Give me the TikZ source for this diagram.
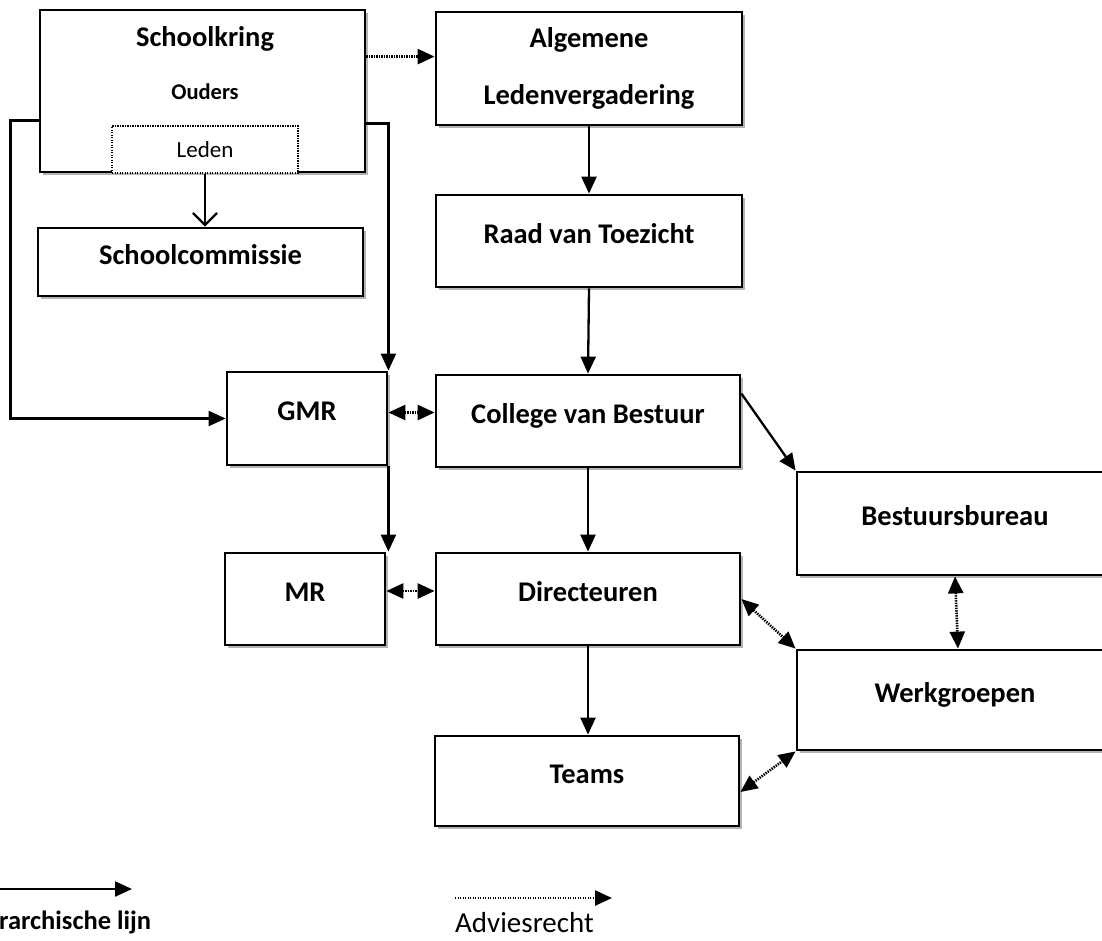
\documentclass[tikz,border=0pt]{standalone}
\usepackage{fontspec}
\setmainfont{Carlito}
\usetikzlibrary{arrows.meta,shadows}

\tikzset{
  box/.style={draw, line width=2.8pt, fill=white, inner sep=0pt,
    drop shadow={shadow xshift=2.5pt, shadow yshift=-2.5pt, fill=black!50, opacity=0.6},
    font=\fontsize{28.5}{34}\selectfont\bfseries},
  unit/.style={box, text height=18pt, text depth=14pt},
  lijn/.style={line width=2.3pt, -{Triangle[length=17pt,width=15pt]}},
  advies/.style={line width=2.6pt, dash pattern=on 1.4pt off 1.1pt,
    -{Triangle[length=17pt,width=15pt]}},
  advies2/.style={advies, {Triangle[length=17pt,width=15pt]}-{Triangle[length=17pt,width=15pt]}},
}

\begin{document}
\begin{tikzpicture}[x=1pt, y=-1pt]
\useasboundingbox (0,0) rectangle (1102,940);
%% schoolkring met ouders en leden
\node[box, minimum width=325pt, minimum height=162pt] (skring) at (202.5,91) {};
\node[font=\fontsize{28.5}{34}\selectfont\bfseries] (skring-t) at (205,39) {Schoolkring};
\node[font=\fontsize{22.5}{26}\selectfont\bfseries] (ouders) at (205,92) {Ouders};
\node[draw, fill=white, line width=2.2pt, dash pattern=on 1.4pt off 1.1pt,
  minimum width=186pt, minimum height=47pt, inner sep=0pt,
  font=\fontsize{23}{26}\selectfont] (leden) at (205,149.5) {Leden};
\node[unit, minimum width=325pt, minimum height=68pt] (scomm) at (200.5,262) {Schoolcommissie};
%% bestuur
\node[box, minimum width=306pt, minimum height=113pt, align=center] (alv) at (589,68.5)
  {Algemene\\[23pt]Ledenvergadering};
\node[unit, minimum width=306pt, minimum height=92pt] (rvt) at (589,241) {Raad van Toezicht};
\node[unit, minimum width=304pt, minimum height=92pt] (cvb) at (588,421) {College van Bestuur};
\node[unit, minimum width=304pt, minimum height=92pt] (dir) at (588,599) {Directeuren};
\node[unit, minimum width=304pt, minimum height=90pt] (teams) at (587,781) {Teams};
%% medezeggenschap
\node[unit, minimum width=160pt, minimum height=93pt] (gmr) at (307,418.5) {GMR};
\node[unit, minimum width=160pt, minimum height=92pt] (mr) at (305,599) {MR};
%% rechts
\node[unit, minimum width=316pt, minimum height=103pt] (bb) at (955,523.5) {Bestuursbureau};
\node[unit, minimum width=316pt, minimum height=100pt] (wg) at (955,700) {Werkgroepen};

%% hierarchische lijnen
\draw[-{Straight Barb[length=12pt,width=24pt]}, line width=2.3pt] (leden.south) -- (leden.south |- scomm.north);
\draw[lijn] ([yshift=-112pt]skring.north west) -- ++(-28,0) |- (gmr.west);
\draw[lijn] ([yshift=-115pt]skring.north east) -| (gmr.north east);
\draw[lijn] (alv.south) -- (rvt.north);
\draw[lijn] (rvt.south) -- (cvb.north);
\draw[lijn] (cvb.south) -- (dir.north);
\draw[lijn] (dir.south) -- (dir.south |- teams.north);
\draw[lijn] (gmr.south east) -- (gmr.south east |- mr.north);
\draw[lijn] ([yshift=-20pt]cvb.north east) -- (bb.north west);
%% adviesrecht
\draw[advies] ([yshift=-48pt]skring.north east) -- ([yshift=-48pt]skring.north east -| alv.west);
\draw[advies2] ([yshift=6pt]gmr.east) -- ([yshift=6pt]gmr.east -| cvb.west);
\draw[advies2] ([yshift=8pt]mr.east) -- ([yshift=8pt]mr.east -| dir.west);
\draw[advies2] (dir.east) -- (wg.north west);
\draw[advies2] (bb.south) -- ([xshift=3pt]wg.north);
\draw[advies2] ([yshift=-11pt]teams.east) -- (wg.south west);

%% legenda
\coordinate (hl-a) at (0,889);
\coordinate (hl-b) at (132,889);
\draw[lijn] (hl-a) -- (hl-b);
\node[anchor=base west, inner sep=0pt, font=\fontsize{26.5}{30}\selectfont\bfseries] (hl-txt) at (-1,929) {rarchische lijn};
\coordinate (ar-a) at (455,898);
\coordinate (ar-b) at (612,898);
\draw[advies] (ar-a) -- (ar-b);
\node[anchor=base west, inner sep=0pt, font=\fontsize{29}{32}\selectfont] (ar-txt) at (455,932) {Adviesrecht};
\end{tikzpicture}
\end{document}
